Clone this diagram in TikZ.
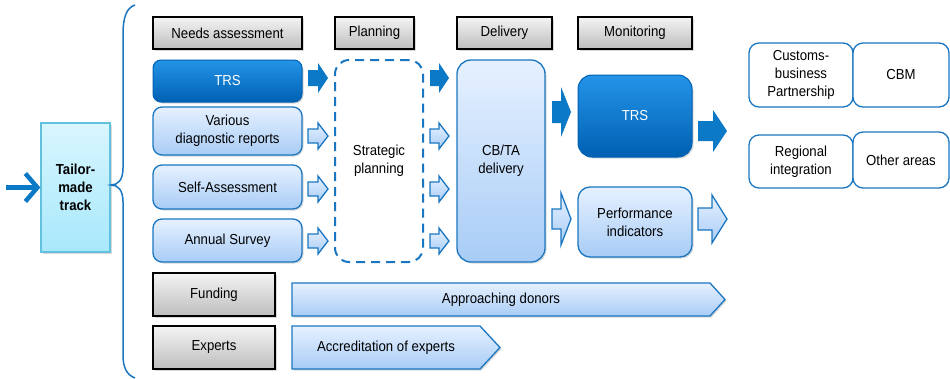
\documentclass[tikz,border=0pt]{standalone}
\usepackage{fontspec}
\setmainfont[FakeStretch=0.91]{Liberation Sans}
\usetikzlibrary{shadows, arrows.meta}

\definecolor{lineblue}{HTML}{1A76C0}
\definecolor{arrowblue}{HTML}{0C79C6}
\definecolor{trstop}{HTML}{2494E8}
\definecolor{trsbot}{HTML}{0060B2}
\definecolor{lighttop}{HTML}{E6F1FF}
\definecolor{lightbot}{HTML}{A8CCF6}
\definecolor{headtop}{HTML}{F4F4F4}
\definecolor{headbot}{HTML}{BDBDBD}
\definecolor{tailortop}{HTML}{D8F6FF}
\definecolor{tailorbot}{HTML}{A8E8FB}
\definecolor{tailorline}{HTML}{62C1DC}

\tikzset{
	pics/blockarrow/.style n args={4}{code={
		\path[pic actions] (0,-#2) -- ({#1-#4},-#2) -- ({#1-#4},-#3) -- (#1,0) -- ({#1-#4},#3) -- ({#1-#4},#2) -- (0,#2) -- cycle;
	}},
	shade/.style={drop shadow={shadow xshift=1.5pt, shadow yshift=-1.5pt, opacity=0.3}},
	head/.style={draw=black, line width=1.6pt, top color=headtop, bottom color=headbot, minimum height=32pt, shade},
	darkbox/.style={draw=trsbot, line width=1pt, top color=trstop, bottom color=trsbot, rounded corners=8pt, text=white, shade},
	lightbox/.style={draw=lineblue, line width=1.3pt, top color=lighttop, bottom color=lightbot, rounded corners=9pt, shade},
	planbox/.style={draw=lineblue, line width=2pt, dash pattern=on 9pt off 6pt, fill=white, rounded corners=14pt},
	areabox/.style={draw=lineblue, line width=1.3pt, fill=white, rounded corners=10pt},
	tailorbox/.style={draw=tailorline, line width=1.3pt, top color=tailortop, bottom color=tailorbot, shade},
	solidarr/.style={fill=arrowblue},
	lightarr/.style={draw=lineblue, line width=1.3pt, top color=lighttop, bottom color=lightbot},
	chevron/.style={draw=lineblue, line width=1.3pt, top color=lighttop, bottom color=lightbot, shade},
	brace/.style={draw=lineblue, line width=1.5pt},
	feedarrow/.style={draw=arrowblue, line width=4.5pt, -{Straight Barb[length=12pt, width=28pt]}}
}

\begin{document}
\begin{tikzpicture}[x=1pt, y=-1pt, every node/.style={font=\fontsize{14.5}{18}\selectfont, align=center, inner sep=0pt}]
	\useasboundingbox (0,0) rectangle (950,378);

	% headers
	\begin{scope}
		\node[head, minimum width=149pt] (needs) at (227.5,33) {Needs assessment};
		\node[head, minimum width=79pt] (plan) at (374.5,33) {Planning};
		\node[head, minimum width=95pt] (deliv) at (504.5,33) {Delivery};
		\node[head, minimum width=114pt] (monit) at (635,33) {Monitoring};
	\end{scope}

	% needs assessment column
	\begin{scope}
		\node[darkbox, minimum width=149pt, minimum height=42pt] (trsneeds) at (227.5,81) {TRS};
		\node[lightbox, minimum width=149pt, minimum height=48pt] (various) at (227.5,131) {Various\\diagnostic reports};
		\node[lightbox, minimum width=149pt, minimum height=44pt] (selfass) at (227.5,187) {Self-Assessment};
		\node[lightbox, minimum width=149pt, minimum height=43pt] (survey) at (227.5,240.5) {Annual Survey};
		\node[head, minimum width=122pt, minimum height=43pt] (funding) at (214,294.5) {Funding};
		\node[head, minimum width=122pt, minimum height=43pt] (experts) at (214,347.5) {Experts};
	\end{scope}

	% planning, delivery, monitoring
	\begin{scope}
		\node[planbox, minimum width=88pt, minimum height=202pt] (strategic) at (379,161) {Strategic\\planning};
		\node[lightbox, rounded corners=14pt, minimum width=88pt, minimum height=202pt] (cbta) at (501,161) {CB/TA\\delivery};
		\node[darkbox, rounded corners=14pt, minimum width=114pt, minimum height=82pt] (trsmonit) at (635,116) {TRS};
		\node[lightbox, rounded corners=12pt, minimum width=114pt, minimum height=70pt] (perf) at (635,222) {Performance\\indicators};
	\end{scope}

	% areas
	\begin{scope}
		\node[areabox, minimum width=104pt, minimum height=64pt] (custbiz) at (801,75) {Customs-\\business\\Partnership};
		\node[areabox, minimum width=96pt, minimum height=64pt] (cbm) at (901,75) {CBM};
		\node[areabox, minimum width=104pt, minimum height=53pt] (regional) at (801,161.5) {Regional\\integration};
		\node[areabox, minimum width=96pt, minimum height=56pt] (other) at (901,160) {Other areas};
	\end{scope}

	% block arrows
	\begin{scope}
		\pic[solidarr] at (308,78) {blockarrow={20}{8}{15}{10}};
		\pic[solidarr] at (430,78) {blockarrow={19}{8}{15}{10}};
		\foreach \yy in {136,189,241} {
			\pic[lightarr] at (308,\yy) {blockarrow={20}{7}{13}{10}};
			\pic[lightarr] at (430,\yy) {blockarrow={19}{7}{13}{10}};
		}
		\pic[solidarr] at (552,112) {blockarrow={19}{11}{25}{10}};
		\pic[lightarr] at (552,219) {blockarrow={19}{10}{26}{10}};
		\pic[solidarr] at (698,131) {blockarrow={29}{10}{21}{14}};
		\pic[lightarr] at (698,219) {blockarrow={29}{11}{24}{15}};
	\end{scope}

	% funding and experts
	\begin{scope}
		\path[chevron] (292,283) -- (710,283) -- (725,299.5) -- (710,316) -- (292,316) -- cycle;
		\node (donors) at (501,300) {Approaching donors};
		\path[chevron] (292,326) -- (480,326) -- (500,347.5) -- (480,369) -- (292,369) -- cycle;
		\node (accred) at (386,347.5) {Accreditation of experts};
	\end{scope}

	% tailor-made track
	\node[tailorbox, minimum width=69pt, minimum height=129pt, font=\fontsize{14.5}{18}\selectfont\bfseries] (tailor) at (75.5,187.5) {Tailor-\\made\\track};
	\coordinate (feed) at (6,187.5);
	\draw[feedarrow] (feed) -- (tailor.west);
	\draw[brace] (135,5) .. controls (126,8) and (123,18) .. (123,35) -- (123,168) .. controls (123,180) and (118,185) .. (111,185) .. controls (118,185) and (123,190) .. (123,202) -- (123,355) .. controls (123,368) and (127,375) .. (135,378);
\end{tikzpicture}
\end{document}
